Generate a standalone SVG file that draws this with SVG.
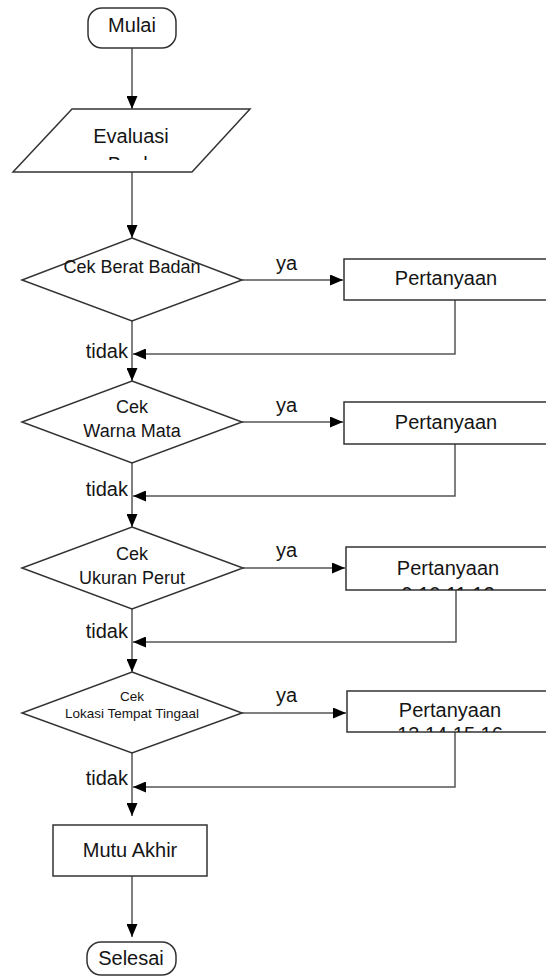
<svg xmlns="http://www.w3.org/2000/svg" width="546" height="978" viewBox="0 0 546 978">
<style>
.shape{fill:#fff;stroke:#333;stroke-width:1.5}
.conn{fill:none;stroke:#555;stroke-width:1.5}
text{font-family:"Liberation Sans",Arial,sans-serif;fill:#151515}
.t20{font-size:20px;text-anchor:middle}
.t18{font-size:18px;text-anchor:middle}
.t13{font-size:13.5px;text-anchor:middle}
.lbl{font-size:20px}
.end{text-anchor:end}
</style>
<defs>
<marker id="arr" viewBox="0 0 13 11" refX="13" refY="5.5" markerWidth="13" markerHeight="11" markerUnits="userSpaceOnUse" orient="auto">
<path d="M0,0 L13,5.5 L0,11 Z" fill="#000"/>
</marker>
<clipPath id="cEval"><rect x="0" y="100" width="300" height="60"/></clipPath>
<clipPath id="cB3"><rect x="346" y="547" width="204" height="43"/></clipPath>
<clipPath id="cB4"><rect x="347" y="691" width="204" height="41"/></clipPath>
</defs>

<g id="connectors">
<line class="conn" x1="132" y1="48" x2="132" y2="109" marker-end="url(#arr)"/>
<line class="conn" x1="132" y1="172" x2="132" y2="238" marker-end="url(#arr)"/>
<line class="conn" x1="242" y1="280" x2="343" y2="280" marker-end="url(#arr)"/>
<polyline class="conn" points="455,300 455,354 133,354" marker-end="url(#arr)"/>
<line class="conn" x1="132" y1="321" x2="132" y2="381" marker-end="url(#arr)"/>
<line class="conn" x1="242" y1="422" x2="343" y2="422" marker-end="url(#arr)"/>
<polyline class="conn" points="455,444 455,496 133,496" marker-end="url(#arr)"/>
<line class="conn" x1="132" y1="463" x2="132" y2="527" marker-end="url(#arr)"/>
<line class="conn" x1="243" y1="568" x2="345" y2="568" marker-end="url(#arr)"/>
<polyline class="conn" points="456,590 456,642 133,642" marker-end="url(#arr)"/>
<line class="conn" x1="132" y1="609" x2="132" y2="672" marker-end="url(#arr)"/>
<line class="conn" x1="242" y1="713" x2="346" y2="713" marker-end="url(#arr)"/>
<polyline class="conn" points="455,732 455,787 133,787" marker-end="url(#arr)"/>
<line class="conn" x1="132" y1="753" x2="132" y2="816" marker-end="url(#arr)"/>
<line class="conn" x1="132" y1="876" x2="132" y2="937" marker-end="url(#arr)"/>
<text class="lbl" x="276" y="270">ya</text>
<text class="lbl" x="276" y="412">ya</text>
<text class="lbl" x="276" y="557">ya</text>
<text class="lbl" x="276" y="702">ya</text>
<text class="lbl end" x="128" y="358">tidak</text>
<text class="lbl end" x="128" y="496">tidak</text>
<text class="lbl end" x="128" y="638">tidak</text>
<text class="lbl end" x="128" y="785">tidak</text>
</g>

<g id="mulai">
<rect class="shape" x="88" y="8" width="88" height="40" rx="14"/>
<text class="t20" x="132" y="32">Mulai</text>
</g>

<g id="evaluasi">
<polygon class="shape" points="72,109 250,109 192,172 13,172"/>
<text class="t20" x="131" y="143">Evaluasi</text>
<text class="t20" x="131" y="171" clip-path="url(#cEval)">Buah</text>
</g>

<g id="cek1">
<polygon class="shape" points="132,238 242,280 132,321 22,280"/>
<text class="t18" x="132" y="273">Cek Berat Badan</text>
</g>

<g id="pertanyaan1">
<rect class="shape" x="344" y="259" width="204" height="41"/>
<text class="t20" x="446" y="285">Pertanyaan</text>
</g>

<g id="cek2">
<polygon class="shape" points="132,381 242,422 132,463 22,422"/>
<text class="t18" x="132" y="413">Cek</text>
<text class="t18" x="132" y="437">Warna Mata</text>
</g>

<g id="pertanyaan2">
<rect class="shape" x="344" y="402" width="204" height="42"/>
<text class="t20" x="446" y="429">Pertanyaan</text>
</g>

<g id="cek3">
<polygon class="shape" points="132,527 243,568 132,609 22,568"/>
<text class="t18" x="132" y="560">Cek</text>
<text class="t18" x="132" y="584">Ukuran Perut</text>
</g>

<g id="pertanyaan3">
<rect class="shape" x="346" y="547" width="204" height="43"/>
<g clip-path="url(#cB3)">
<text class="t20" x="448" y="575">Pertanyaan</text>
<text class="t20" x="448" y="601">9,10,11,12</text>
</g>
</g>

<g id="cek4">
<polygon class="shape" points="132,672 242,713 132,753 22,713"/>
<text class="t13" x="132" y="701">Cek</text>
<text class="t13" x="132" y="718">Lokasi Tempat Tingaal</text>
</g>

<g id="pertanyaan4">
<rect class="shape" x="347" y="691" width="204" height="41"/>
<g clip-path="url(#cB4)">
<text class="t20" x="450" y="717">Pertanyaan</text>
<text class="t20" x="450" y="741">13,14,15,16</text>
</g>
</g>

<g id="mutu">
<rect class="shape" x="53" y="825" width="154" height="51"/>
<text class="t20" x="130" y="857">Mutu Akhir</text>
</g>

<g id="selesai">
<rect class="shape" x="87" y="942" width="89" height="33" rx="14"/>
<text class="t20" x="131" y="965">Selesai</text>
</g>
</svg>
